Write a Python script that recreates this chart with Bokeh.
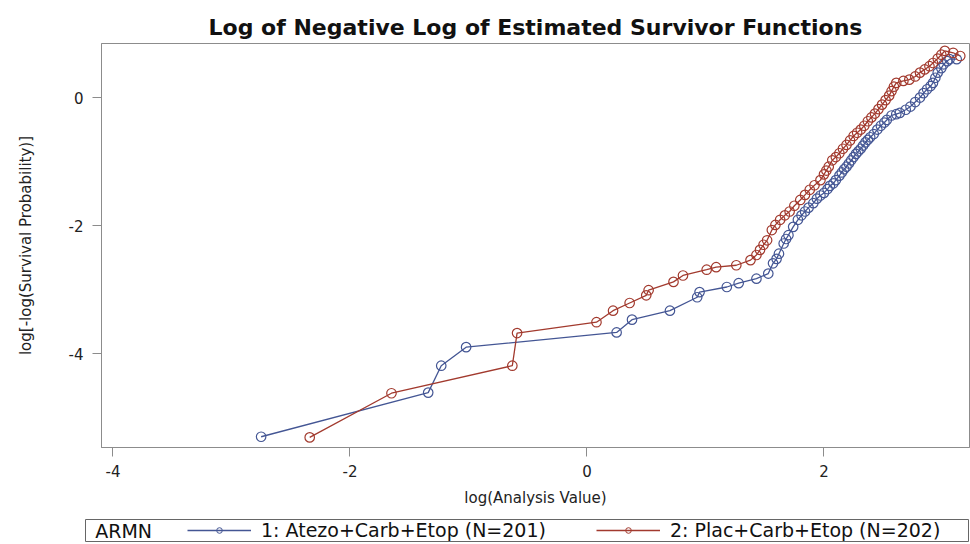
from bokeh.plotting import figure
from bokeh.layouts import column, row
from bokeh.models import Range1d, FixedTicker, Legend, LegendItem, ColumnDataSource, Label
from bokeh.embed import file_html
from bokeh.resources import INLINE

# ---- data ----
arm1_label = "1: Atezo+Carb+Etop (N=201)"
arm1_x = [-2.75, -1.34, -1.23, -1.02, 0.25, 0.38, 0.70, 0.93, 0.95, 1.18, 1.28, 1.43, 1.53,
          1.57, 1.60, 1.62, 1.66, 1.68, 1.70, 1.74, 1.78, 1.81, 1.84, 1.87, 1.91, 1.94,
          1.97, 2.00, 2.03, 2.05, 2.08, 2.10, 2.13, 2.15, 2.17, 2.19, 2.21, 2.23, 2.25,
          2.27, 2.29, 2.31, 2.33, 2.35, 2.37, 2.39, 2.42, 2.45, 2.48, 2.51, 2.53, 2.57,
          2.61, 2.64, 2.69, 2.73, 2.77, 2.81, 2.84, 2.87, 2.90, 2.92, 2.94, 2.96, 2.99,
          3.01, 3.04, 3.06, 3.12]
arm1_y = [-5.30, -4.61, -4.19, -3.90, -3.67, -3.47, -3.33, -3.12, -3.04, -2.96, -2.90, -2.83, -2.75,
          -2.59, -2.52, -2.44, -2.28, -2.21, -2.15, -2.02, -1.91, -1.84, -1.78, -1.72, -1.65, -1.58,
          -1.53, -1.49, -1.43, -1.38, -1.34, -1.29, -1.22, -1.17, -1.12, -1.08, -1.03, -0.98, -0.93,
          -0.88, -0.84, -0.80, -0.75, -0.70, -0.66, -0.62, -0.57, -0.50, -0.44, -0.39, -0.35, -0.28,
          -0.26, -0.24, -0.19, -0.14, -0.07, 0.00, 0.07, 0.13, 0.18, 0.23, 0.31, 0.39, 0.46,
          0.52, 0.57, 0.60, 0.60]

arm2_label = "2: Plac+Carb+Etop (N=202)"
arm2_x = [-2.34, -1.65, -0.63, -0.59, 0.08, 0.22, 0.36, 0.50, 0.52, 0.73, 0.81, 1.01, 1.09,
          1.26, 1.38, 1.43, 1.46, 1.49, 1.52, 1.56, 1.59, 1.63, 1.67, 1.71, 1.75, 1.80,
          1.84, 1.88, 1.92, 1.97, 2.00, 2.02, 2.04, 2.07, 2.10, 2.13, 2.16, 2.19, 2.22,
          2.25, 2.28, 2.31, 2.34, 2.37, 2.40, 2.43, 2.46, 2.49, 2.52, 2.55, 2.57, 2.59,
          2.61, 2.67, 2.72, 2.77, 2.81, 2.85, 2.89, 2.92, 2.96, 2.99, 3.02, 3.09, 3.15]
arm2_y = [-5.31, -4.62, -4.19, -3.68, -3.51, -3.33, -3.21, -3.09, -3.01, -2.88, -2.78, -2.69, -2.65,
          -2.62, -2.54, -2.46, -2.38, -2.30, -2.23, -2.07, -1.99, -1.91, -1.84, -1.78, -1.69, -1.60,
          -1.52, -1.44, -1.37, -1.29, -1.20, -1.14, -1.08, -0.98, -0.93, -0.87, -0.80, -0.74, -0.67,
          -0.60, -0.55, -0.50, -0.44, -0.37, -0.31, -0.25, -0.18, -0.11, -0.04, 0.03, 0.10, 0.17,
          0.23, 0.26, 0.28, 0.33, 0.39, 0.44, 0.49, 0.54, 0.61, 0.67, 0.73, 0.70, 0.65]

x_ticks = [-4, -2, 0, 2]
y_ticks = [-4, -2, 0]

title_text = "Log of Negative Log of Estimated Survivor Functions"
x_label = "log(Analysis Value)"
y_label = "log[-log(Survival Probability)]"
legend_title = "ARMN"

# ---- styling ----
FONT = "DejaVu Sans"
BLUE = "#445694"
RED = "#A23A2E"
AXIS_GRAY = "#8c8c8c"
TXT = "#222222"

p = figure(width=970, height=512,
           x_range=Range1d(-4.097, 3.228), y_range=Range1d(-5.468, 0.845),
           output_backend="svg", toolbar_location=None,
           min_border_left=101, min_border_right=1, min_border_top=43, min_border_bottom=65)

p.title.text = title_text
p.title.align = "center"
p.title.text_font = FONT
p.title.text_font_size = "22px"
p.title.text_font_style = "bold"
p.title.text_color = "#111111"
p.title.standoff = 8

p.xgrid.visible = False
p.ygrid.visible = False
p.outline_line_color = AXIS_GRAY
p.outline_line_width = 1
p.background_fill_color = "white"
p.border_fill_color = "white"

for ax, ticks, lab in ((p.xaxis[0], x_ticks, x_label), (p.yaxis[0], y_ticks, y_label)):
    ax.ticker = FixedTicker(ticks=ticks, minor_ticks=[])
    ax.major_label_overrides = {t: str(t) for t in ticks}
    ax.axis_label = lab
    ax.axis_label_text_font = FONT
    ax.axis_label_text_font_size = "15px"
    ax.axis_label_text_font_style = "normal"
    ax.axis_label_text_color = TXT
    ax.major_label_text_font = FONT
    ax.major_label_text_font_size = "15px"
    ax.major_label_text_color = TXT
    ax.axis_line_color = AXIS_GRAY
    ax.major_tick_line_color = AXIS_GRAY
    ax.major_tick_out = 9
    ax.major_tick_in = 0
    ax.minor_tick_line_color = None
    ax.major_label_standoff = 8

p.xaxis[0].axis_label_standoff = 9
p.yaxis[0].axis_label_standoff = 31
p.yaxis[0].major_label_standoff = 9

src1 = ColumnDataSource(dict(x=arm1_x, y=arm1_y))
src2 = ColumnDataSource(dict(x=arm2_x, y=arm2_y))

p.line("x", "y", source=src1, line_color=BLUE, line_width=1.3)
p.scatter("x", "y", source=src1, marker="circle", size=9.5, fill_color=None,
          line_color=BLUE, line_width=1.2)
p.line("x", "y", source=src2, line_color=RED, line_width=1.3)
p.scatter("x", "y", source=src2, marker="circle", size=9.5, fill_color=None,
          line_color=RED, line_width=1.2)

# ---- legend strip below the plot ----
q = figure(width=970, height=32, x_range=Range1d(0, 1), y_range=Range1d(0, 1),
           output_backend="svg", toolbar_location=None,
           x_axis_type=None, y_axis_type=None,
           min_border_left=85, min_border_right=2, min_border_top=7, min_border_bottom=3)
q.xgrid.visible = False
q.ygrid.visible = False
q.outline_line_color = "#666666"
q.outline_line_width = 1
q.border_fill_color = "white"

q.add_layout(Label(x=0.011, y=0.5, text=legend_title, text_font=FONT,
                   text_font_size="19px", text_color="#111111",
                   text_baseline="middle", text_align="left"))

# legend-key renderers: a single point placed outside the visible range so only the key shows
key1 = ColumnDataSource(dict(x=[-10.0], y=[-10.0]))
key2 = ColumnDataSource(dict(x=[-10.0], y=[-10.0]))
gl1 = q.line("x", "y", source=key1, line_color=BLUE, line_width=1.3)
gs1 = q.scatter("x", "y", source=key1, marker="circle", size=8, fill_color=None,
                line_color=BLUE, line_width=1)
gl2 = q.line("x", "y", source=key2, line_color=RED, line_width=1.3)
gs2 = q.scatter("x", "y", source=key2, marker="circle", size=8, fill_color=None,
                line_color=RED, line_width=1)

legend = Legend(items=[LegendItem(label=arm1_label, renderers=[gl1, gs1]),
                       LegendItem(label=arm2_label, renderers=[gl2, gs2])],
                orientation="horizontal", location="left")
legend.label_text_font = FONT
legend.label_text_font_size = "19px"
legend.label_text_color = "#111111"
legend.glyph_width = 64
legend.glyph_height = 14
legend.label_height = 14
legend.label_standoff = 10
legend.spacing = 50
legend.padding = 0
legend.margin = 102
legend.border_line_color = None
legend.background_fill_alpha = 0
q.add_layout(legend, "center")

layout = column(p, row(q), spacing=0)
open("out.html", "w").write(file_html(layout, INLINE))
